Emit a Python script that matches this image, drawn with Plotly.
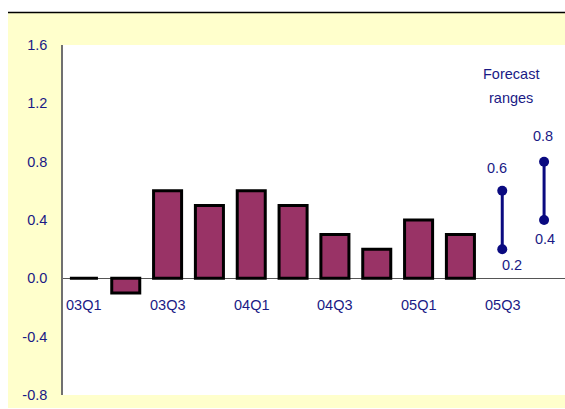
import plotly.graph_objects as go

categories = ["03Q1", "03Q2", "03Q3", "03Q4", "04Q1", "04Q2", "04Q3", "04Q4",
              "05Q1", "05Q2", "05Q3", "05Q4"]
bar_values = [0.0, -0.1, 0.6, 0.5, 0.6, 0.5, 0.3, 0.2, 0.4, 0.3]
tick_labels = ["03Q1", "03Q3", "04Q1", "04Q3", "05Q1", "05Q3"]
forecast_cats = ["05Q3", "05Q4"]
forecast_low = [0.2, 0.4]
forecast_high = [0.6, 0.8]
y_ticks = [-0.8, -0.4, 0.0, 0.4, 0.8, 1.2, 1.6]
legend_lines = ["Forecast", "ranges"]

FONT = "Liberation Sans Narrow, Arial Narrow, Liberation Sans, Arial, sans-serif"
FS = 14.5
NAVY = "#1a1a85"
LINE_NAVY = "#0a0a80"

fig = go.Figure()
fig.add_trace(go.Bar(
    x=categories[:len(bar_values)], y=bar_values, width=0.67,
    marker=dict(color="#993366", line=dict(color="black", width=3)),
    showlegend=False, hoverinfo="skip"))

for c, lo, hi in zip(forecast_cats, forecast_low, forecast_high):
    fig.add_trace(go.Scatter(
        x=[c, c], y=[lo, hi], mode="lines+markers",
        line=dict(color=LINE_NAVY, width=3),
        marker=dict(color=LINE_NAVY, size=10),
        showlegend=False, hoverinfo="skip"))

annotations = []
# forecast value labels
for c, lo, hi, lo_dx, lo_dy, hi_dx, hi_dy in zip(
        forecast_cats, forecast_low, forecast_high,
        [10, 1], [-16, -19], [-5, -1], [23, 26]):
    annotations.append(dict(x=c, y=hi, xref="x", yref="y", text=f"{hi:.1f}",
                            showarrow=False, xshift=hi_dx, yshift=hi_dy,
                            font=dict(family=FONT, size=FS, color=NAVY)))
    annotations.append(dict(x=c, y=lo, xref="x", yref="y", text=f"{lo:.1f}",
                            showarrow=False, xshift=lo_dx, yshift=lo_dy,
                            font=dict(family=FONT, size=FS, color=NAVY)))
for i, line in enumerate(legend_lines):
    annotations.append(dict(x=10.2, y=1.40, xref="x", yref="y",
                            text=line, showarrow=False, yshift=-24 * i,
                            font=dict(family=FONT, size=FS, color=NAVY)))
# category labels beneath the zero line
for lab in tick_labels:
    annotations.append(dict(x=lab, y=0, xref="x", yref="y", text=lab,
                            showarrow=False, yanchor="middle", yshift=-27,
                            font=dict(family=FONT, size=FS, color=NAVY)))

shapes = [
    # white strips outside the yellow frame
    dict(type="rect", xref="paper", yref="paper", x0=-0.2, x1=1.1,
         y0=(395 - 12.5) / 350, y1=1.3, fillcolor="white", line_width=0,
         layer="below"),
    dict(type="rect", xref="paper", yref="paper", x0=-0.2, x1=(8 - 63) / 502,
         y0=-0.2, y1=1.3, fillcolor="white", line_width=0, layer="below"),
    dict(type="rect", xref="paper", yref="paper", x0=-0.2, x1=1.1,
         y0=-0.2, y1=(395 - 408) / 350, fillcolor="white", line_width=0,
         layer="below"),
    # top black rule
    dict(type="line", xref="paper", yref="paper", x0=(8 - 63) / 502, x1=1.0,
         y0=(395 - 12.5) / 350, y1=(395 - 12.5) / 350,
         line=dict(color="black", width=1.5)),
]

fig.update_layout(
    width=565, height=409,
    margin=dict(l=63, r=0, t=45, b=14),
    paper_bgcolor="#FFFFCC", plot_bgcolor="white",
    bargap=0.33,
    shapes=shapes, annotations=annotations,
    xaxis=dict(type="category", categoryorder="array", categoryarray=categories,
               range=[-0.5, len(categories) - 0.5], showticklabels=False,
               showgrid=False, zeroline=False, showline=False, ticks=""),
    yaxis=dict(range=[-0.8, 1.6], tickvals=y_ticks,
               ticktext=[f"{v:.1f}" for v in y_ticks],
               showgrid=False, zeroline=True, zerolinecolor="#555555",
               zerolinewidth=1, showline=True, linecolor="#707070", linewidth=1.5,
               ticks="", ticklabelstandoff=11,
               tickfont=dict(family=FONT, size=FS, color=NAVY)),
)

fig.write_html("out.html")
